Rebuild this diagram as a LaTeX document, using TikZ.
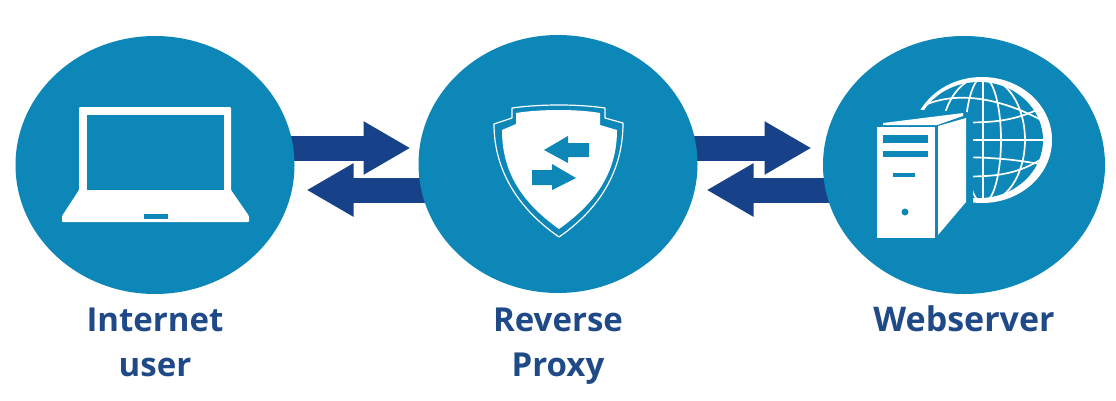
\documentclass[tikz,border=0pt]{standalone}
\usepackage{fontspec}
\setmainfont{Open Sans}
\usetikzlibrary{arrows.meta,shapes.geometric,backgrounds}
\definecolor{teal1}{HTML}{0D86B8}
\definecolor{navy1}{HTML}{174289}
\definecolor{txt1}{HTML}{1F4A87}
\tikzset{
  x=1pt,y=-1pt,
  hub/.style={ellipse,fill=teal1,inner sep=0pt,minimum height=258pt},
  link/.style={line width=25pt,navy1,-{Triangle[length=47pt,width=50pt]},shorten >=-0.5pt},
  lbl/.style={text=txt1,font=\fontsize{33}{44}\selectfont\bfseries,align=center,anchor=base,inner sep=0pt},
  ico/.style={fill=white,draw=none},
  cut/.style={fill=teal1,draw=none},
  wire/.style={draw=white,line width=1.7pt}
}
\begin{document}
\begin{tikzpicture}
\useasboundingbox (0,0) rectangle (1116,400);
\node[hub,minimum width=279pt] (user) at (155,165) {};
\node[hub,minimum width=279pt] (proxy) at (558,164) {};
\node[hub,minimum width=282pt] (server) at (964,165) {};
% connectors
\coordinate (t1) at (410,148);
\coordinate (t2) at (307,190);
\coordinate (t3) at (811,148);
\coordinate (t4) at (707,190);
\begin{scope}[on background layer]
\draw[link] (user.center |- t1) -- (t1);
\draw[link] (proxy.center |- t2) -- (t2);
\draw[link] (proxy.center |- t3) -- (t3);
\draw[link] (server.center |- t4) -- (t4);
\end{scope}
% laptop
\fill[ico,rounded corners=1pt] (79,107) -- (231,107) -- (231,190) -- (249,216) -- (249,222) -- (62,222) -- (62,216) -- (79,190) -- cycle;
\fill[cut] (87,115) rectangle (224,190);
\fill[cut] (144,214) rectangle (168,219);
% shield
\draw[white,line width=1.2pt,line join=round] (512,108) .. controls (540,104) and (578,104) .. (605,108) -- (605,118) -- (623,123)
  .. controls (623,165) and (605,205) .. (559,237) .. controls (513,205) and (494,165) .. (494,124) -- (512,118) -- cycle;
\fill[ico] (516,113) .. controls (540,109) and (578,109) .. (600,113) -- (600,125) -- (617,130)
  .. controls (617,168) and (600,200) .. (559,229) .. controls (518,200) and (502,168) .. (502,130) -- (516,124) -- cycle;
\fill[cut] (544,150) -- (568,136) -- (568,143) -- (589,143) -- (589,157) -- (568,157) -- (568,163) -- cycle;
\fill[cut] (576,178) -- (552,164) -- (552,170) -- (532,170) -- (532,185) -- (552,185) -- (552,190) -- cycle;
% globe
\begin{scope}
\fill[ico] (982,140) ellipse [x radius=70pt,y radius=63pt];
\fill[cut] (979,140) ellipse [x radius=64pt,y radius=58pt];
\clip (979,140) ellipse [x radius=65pt,y radius=59pt];
\draw[wire] (983,60) -- (983,220);
\draw[wire] (983,140) ellipse [x radius=18pt,y radius=63pt];
\draw[wire] (983,140) ellipse [x radius=42pt,y radius=63pt];
\draw[wire] (940,122) .. controls (985,123) and (1010,124) .. (1045,106);
\draw[wire] (910,140) -- (1050,140);
\draw[wire] (940,157) .. controls (985,157) and (1010,158) .. (1050,166);
\draw[wire] (940,176) .. controls (985,177) and (1010,178) .. (1040,160);
\draw[wire] (915,110) .. controls (945,92) and (990,92) .. (1045,122);
\end{scope}
\fill[cut] (870,112) -- (925,110) -- (967,112) -- (973,118) -- (973,212) -- (870,245) -- cycle;
% tower
\fill[ico] (883,123) -- (963,113) -- (963,116) -- (937,125) -- (883,125) -- cycle;
\fill[ico] (877,127) rectangle (935,238);
\fill[ico] (938,126) -- (966,118) -- (966,202) -- (938,235) -- cycle;
\fill[cut] (883,135) rectangle (928,143);
\fill[cut] (883,151) rectangle (928,157);
\fill[cut] (893,173) rectangle (915,177);
\fill[cut] (905,212) circle (3.5pt);
% labels
\node[lbl] (l1) at (155,331) {Internet};
\node[lbl] (l2) at (155,376) {user};
\node[lbl] (l3) at (558,331) {Reverse};
\node[lbl] (l4) at (558,376) {Proxy};
\node[lbl,font=\fontsize{34}{44}\selectfont\bfseries] (l5) at (964,331) {Webserver};
\end{tikzpicture}
\end{document}
